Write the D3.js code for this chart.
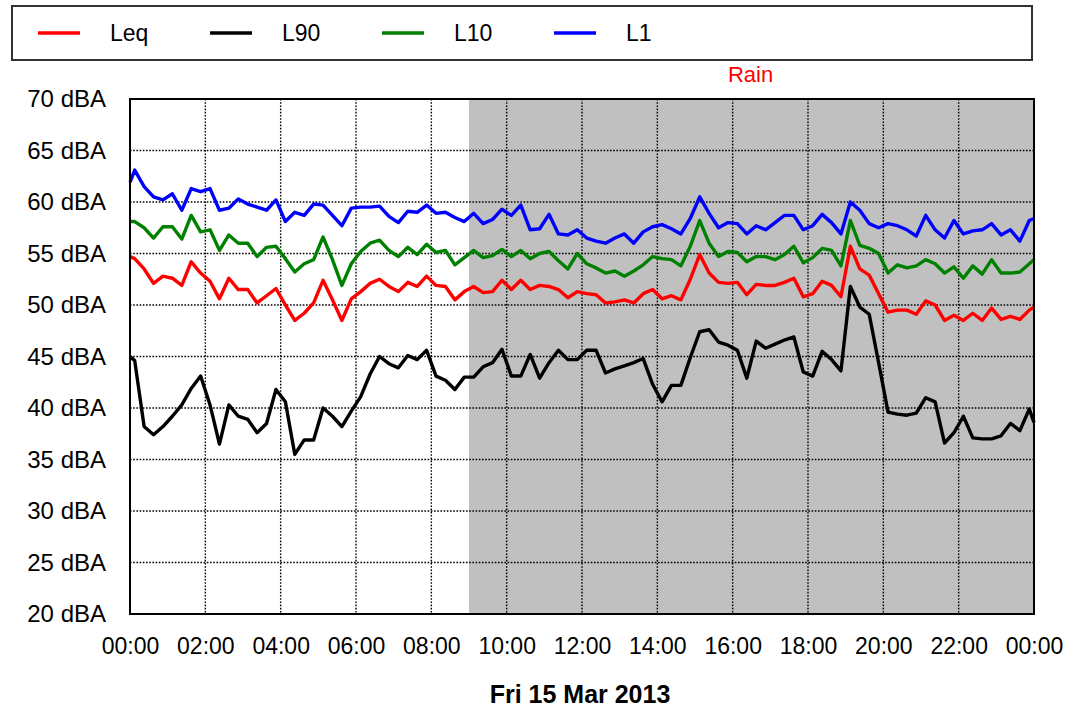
<!DOCTYPE html>
<html>
<head>
<meta charset="utf-8">
<script src="https://cdn.jsdelivr.net/npm/d3@7"></script>
<style>
  html, body { margin: 0; padding: 0; background: #fff; }
  svg { display: block; }
  text { font-family: "Liberation Sans", Arial, sans-serif; }
</style>
</head>
<body>
<div id="chart"></div>
<script>
// ---- Data ----
// sample times in minutes (first/last are the day boundaries, others every 15 min from 00:07:30)
const times = [0].concat(d3.range(96).map(k => 7.5 + 15 * k)).concat([1440]);

const seriesNames = ["Leq", "L90", "L10", "L1"];
const seriesColors = ["#ff0000", "#000000", "#008000", "#0000ff"];

const leq = [54.7,
  54.5, 53.5, 52.1, 52.8, 52.6, 51.9, 54.2, 53.1, 52.3, 50.6, 52.6, 51.5, 51.5, 50.2, 50.9, 51.6, 50.0, 48.5, 49.2, 50.2, 52.4, 50.5, 48.5, 50.6,
  51.3, 52.1, 52.5, 51.8, 51.3, 52.2, 51.8, 52.8, 51.9, 51.8, 50.5, 51.3, 51.8, 51.2, 51.3, 52.4, 51.5, 52.4, 51.5, 51.9, 51.8, 51.5, 50.7, 51.3,
  51.1, 51.0, 50.2, 50.3, 50.5, 50.2, 51.1, 51.5, 50.6, 50.9, 50.5, 52.5, 54.9, 53.1, 52.2, 52.1, 52.2, 51.0, 52.0, 51.9, 51.9, 52.2, 52.6, 50.8,
  51.1, 52.3, 51.9, 50.8, 55.7, 53.5, 52.9, 51.1, 49.3, 49.5, 49.5, 49.1, 50.4, 50.0, 48.5, 49.0, 48.5, 49.2, 48.5, 49.7, 48.6, 48.9, 48.6, 49.5,
  49.8];

const l90 = [45.0,
  44.6, 38.2, 37.4, 38.2, 39.2, 40.3, 41.9, 43.1, 40.3, 36.5, 40.3, 39.2, 38.9, 37.6, 38.5, 41.8, 40.6, 35.5, 36.9, 36.9, 40.0, 39.2, 38.2, 39.7,
  41.1, 43.3, 45.0, 44.3, 43.9, 45.1, 44.7, 45.6, 43.1, 42.7, 41.8, 43.0, 43.0, 44.0, 44.4, 45.7, 43.1, 43.1, 45.2, 42.9, 44.4, 45.6, 44.7, 44.7,
  45.6, 45.6, 43.4, 43.8, 44.1, 44.4, 44.8, 42.3, 40.6, 42.2, 42.2, 44.9, 47.4, 47.6, 46.4, 46.1, 45.6, 42.9, 46.5, 45.8, 46.2, 46.6, 46.9, 43.5,
  43.1, 45.5, 44.7, 43.6, 51.8, 49.8, 49.1, 44.4, 39.6, 39.4, 39.3, 39.5, 41.0, 40.6, 36.6, 37.6, 39.2, 37.1, 37.0, 37.0, 37.3, 38.5, 37.8, 39.9,
  38.6];

const l10 = [58.1,
  58.1, 57.5, 56.5, 57.6, 57.6, 56.4, 58.7, 57.1, 57.3, 55.3, 56.8, 56.0, 56.0, 54.7, 55.6, 55.7, 54.5, 53.2, 54.0, 54.4, 56.6, 54.4, 51.9, 54.0,
  55.2, 56.0, 56.3, 55.3, 54.7, 55.6, 54.9, 55.9, 55.1, 55.3, 53.9, 54.6, 55.3, 54.6, 54.8, 55.4, 54.7, 55.3, 54.5, 55.0, 55.2, 54.3, 53.5, 55.0,
  54.0, 53.6, 53.1, 53.3, 52.8, 53.3, 53.9, 54.7, 54.5, 54.4, 53.8, 55.7, 58.2, 56.0, 54.7, 55.2, 55.1, 54.2, 54.7, 54.7, 54.4, 54.9, 55.7, 54.1,
  54.6, 55.5, 55.3, 53.8, 58.2, 55.8, 55.5, 55.0, 53.1, 53.9, 53.6, 53.8, 54.4, 54.0, 53.1, 53.7, 52.6, 53.8, 53.0, 54.4, 53.1, 53.1, 53.2, 54.0,
  54.4];

const l1 = [61.9,
  63.1, 61.5, 60.5, 60.2, 60.8, 59.2, 61.3, 61.0, 61.3, 59.2, 59.4, 60.3, 59.8, 59.5, 59.2, 60.2, 58.1, 59.0, 58.7, 59.8, 59.7, 58.7, 57.7, 59.4,
  59.5, 59.5, 59.6, 58.6, 58.0, 59.1, 59.0, 59.7, 58.9, 59.0, 58.5, 58.1, 58.9, 57.9, 58.3, 59.3, 58.7, 59.7, 57.3, 57.4, 58.8, 56.9, 56.8, 57.3,
  56.5, 56.2, 56.0, 56.5, 56.9, 56.0, 57.1, 57.6, 57.8, 57.4, 56.9, 58.4, 60.5, 58.9, 57.5, 58.0, 57.9, 56.9, 57.7, 57.3, 58.0, 58.7, 58.7, 57.3,
  57.7, 58.8, 58.0, 56.9, 60.0, 59.2, 57.9, 57.5, 57.9, 57.7, 57.3, 56.7, 58.7, 57.3, 56.5, 58.2, 56.9, 57.2, 57.3, 57.9, 56.8, 57.3, 56.2, 58.2,
  58.4];

const yTicks = [20, 25, 30, 35, 40, 45, 50, 55, 60, 65, 70];
const xTicks = [0, 120, 240, 360, 480, 600, 720, 840, 960, 1080, 1200, 1320, 1440];
const xTickLabels = ["00:00", "02:00", "04:00", "06:00", "08:00", "10:00", "12:00", "14:00", "16:00", "18:00", "20:00", "22:00", "00:00"];
const rainPeriod = [540, 1440];   // 09:00 – 24:00
const rainLabel = "Rain";
const dateLabel = "Fri 15 Mar 2013";

// ---- Chart ----
const W = 1075, H = 712;
const svg = d3.select("#chart").append("svg").attr("width", W).attr("height", H);
svg.append("rect").attr("width", W).attr("height", H).attr("fill", "#fff");

const x = d3.scaleLinear().domain([0, 1440]).range([130, 1034]);
const y = d3.scaleLinear().domain([20, 70]).range([614, 99]);

// rain shading
svg.append("rect")
  .attr("x", x(rainPeriod[0])).attr("y", y(70))
  .attr("width", x(rainPeriod[1]) - x(rainPeriod[0]))
  .attr("height", y(20) - y(70))
  .attr("fill", "#c0c0c0");

svg.append("text").attr("x", (x(rainPeriod[0]) + x(rainPeriod[1])) / 2 - 1).attr("y", 82)
  .attr("text-anchor", "middle").attr("fill", "#ff0000").attr("font-size", 22)
  .text(rainLabel);

// grid
const grid = svg.append("g");
grid.selectAll("line.h").data(yTicks.slice(1, -1)).join("line")
  .attr("x1", x(0)).attr("x2", x(1440))
  .attr("y1", d => y(d)).attr("y2", d => y(d))
  .attr("stroke", "#000").attr("stroke-width", 1.4).attr("stroke-dasharray", "1.6,1.6");
grid.selectAll("line.v").data(xTicks.slice(1, -1)).join("line")
  .attr("x1", d => x(d)).attr("x2", d => x(d))
  .attr("y1", y(70)).attr("y2", y(20))
  .attr("stroke", "#000").attr("stroke-width", 1.4).attr("stroke-dasharray", "1.6,1.6");

// series
const allSeries = [leq, l90, l10, l1];
const line = d3.line().x((d, i) => x(times[i])).y(d => y(d));
allSeries.forEach((s, j) => {
  svg.append("path").datum(s).attr("d", line)
    .attr("fill", "none").attr("stroke", seriesColors[j])
    .attr("stroke-width", 3.4).attr("stroke-linejoin", "round");
});

// axes
const yAxis = d3.axisLeft(y).tickValues(yTicks).tickFormat(d => d + " dBA").tickSize(0).tickPadding(24);
const gy = svg.append("g").attr("transform", `translate(${x(0)},0)`).call(yAxis);
gy.select(".domain").remove();
gy.selectAll("text").attr("font-size", 24).attr("fill", "#000").attr("font-family", "'Liberation Sans', Arial, sans-serif");

const xAxis = d3.axisBottom(x).tickValues(xTicks).tickFormat((d, i) => xTickLabels[i]).tickSize(0).tickPadding(24);
const gx = svg.append("g").attr("transform", `translate(0,${y(20)})`).call(xAxis);
gx.select(".domain").remove();
gx.selectAll("text").attr("font-size", 23).attr("fill", "#000").attr("font-family", "'Liberation Sans', Arial, sans-serif");

// frame
svg.append("rect")
  .attr("x", x(0)).attr("y", y(70))
  .attr("width", x(1440) - x(0)).attr("height", y(20) - y(70))
  .attr("fill", "none").attr("stroke", "#000").attr("stroke-width", 2);

// x title
svg.append("text").attr("x", 580).attr("y", 703).attr("text-anchor", "middle")
  .attr("font-size", 25).attr("font-weight", "bold").text(dateLabel);

// legend
svg.append("rect").attr("x", 12).attr("y", 6).attr("width", 1020).attr("height", 54)
  .attr("fill", "#fff").attr("stroke", "#333").attr("stroke-width", 2);
const lg = svg.append("g").selectAll("g").data(seriesNames).join("g")
  .attr("transform", (d, i) => `translate(${38 + i * 172},33)`);
lg.append("line").attr("x1", 0).attr("x2", 42).attr("y1", 0).attr("y2", 0)
  .attr("stroke", (d, i) => seriesColors[i]).attr("stroke-width", 3.4);
lg.append("text").attr("x", 72).attr("y", 8).attr("font-size", 23).text(d => d);
</script>
</body>
</html>
